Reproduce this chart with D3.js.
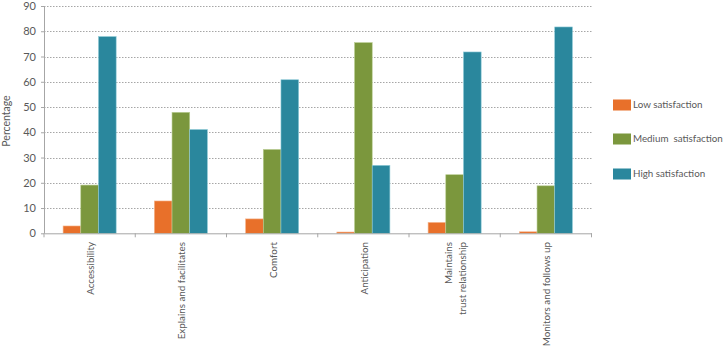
<!DOCTYPE html>
<html>
<head>
<meta charset="utf-8">
<script src="https://cdn.jsdelivr.net/npm/d3@7"></script>
<style>
  html, body { margin: 0; padding: 0; background: #fff; }
  svg { display: block; }
  text { font-family: Lato, "Open Sans", sans-serif; fill: #595959; }
</style>
</head>
<body>
<svg id="chart" width="724" height="348"></svg>
<script>
// ---- data ----
const categories = ["Accessibility", "Explains and facilitates", "Comfort", "Anticipation", "Maintains\ntrust relationship", "Monitors and follows up"];
const seriesNames = ["Low satisfaction", "Medium  satisfaction", "High satisfaction"];
const lowValues = [2.9, 12.8, 5.7, 0.5, 4.3, 0.6];
const mediumValues = [19.1, 47.9, 33.2, 75.5, 23.2, 18.8];
const highValues = [77.9, 41.1, 60.8, 26.9, 71.8, 81.7];
const yTicks = [0, 10, 20, 30, 40, 50, 60, 70, 80, 90];
const colors = ["#E8702A", "#7B973D", "#2A879D"];
const strokeColors = ["#F6B48C", "#BACD93", "#8FCBD8"];

const seriesValues = [lowValues, mediumValues, highValues];

const svg = d3.select("#chart");
const plotLeft = 44, plotRight = 591.5, plotTop = 6, plotBottom = 233.3;

const y = d3.scaleLinear().domain([0, 90]).range([plotBottom, plotTop]);
const x0 = d3.scaleBand().domain(categories).range([plotLeft, plotRight]).padding(0);
const x1 = d3.scaleBand().domain(seriesNames).range([0, x0.bandwidth()]).paddingInner(0).paddingOuter(1.08);

// gridlines
svg.append("g")
  .selectAll("line")
  .data(yTicks.filter(d => d > 0))
  .join("line")
  .attr("x1", plotLeft).attr("x2", plotRight)
  .attr("y1", d => Math.round(y(d)) + 0.5).attr("y2", d => Math.round(y(d)) + 0.5)
  .attr("stroke", "#A6A6A6")
  .attr("stroke-width", 1)
  .attr("stroke-dasharray", "1.5,1.5");

// bars
const groups = svg.append("g")
  .selectAll("g")
  .data(categories)
  .join("g")
  .attr("transform", d => `translate(${x0(d)},0)`);

groups.selectAll("rect")
  .data((c, i) => seriesNames.map((s, j) => ({ s, j, v: seriesValues[j][i] })))
  .join("rect")
  .attr("x", d => x1(d.s))
  .attr("width", x1.bandwidth())
  .attr("y", d => y(d.v))
  .attr("height", d => y(0) - y(d.v))
  .attr("fill", d => colors[d.j])
  .attr("stroke", d => strokeColors[d.j])
  .attr("stroke-width", 0.6);

// y axis
const yAxis = d3.axisLeft(y).tickValues(yTicks).tickSize(3).tickPadding(5).tickSizeOuter(0);
const gy = svg.append("g").attr("transform", `translate(${plotLeft},0)`).call(yAxis);
gy.select(".domain").attr("stroke", "#A6A6A6");
gy.selectAll(".tick line").attr("stroke", "#A6A6A6");
gy.selectAll(".tick text").style("font-size", "11px").style("font-family", "Lato, sans-serif").attr("fill", "#595959");

// x axis
const xAxis = d3.axisBottom(x0).tickSize(0).tickSizeOuter(0).tickFormat("");
const gx = svg.append("g").attr("transform", `translate(0,${plotBottom})`).call(xAxis);
gx.select(".domain").attr("stroke", "#A6A6A6");
// category boundary ticks
gx.append("g").selectAll("line")
  .data(categories.map(c => x0(c)).concat([plotRight]))
  .join("line")
  .attr("x1", d => d).attr("x2", d => d)
  .attr("y1", 0).attr("y2", 4)
  .attr("stroke", "#A6A6A6");

// x labels (rotated)
const labelTop = 242;
const xl = svg.append("g")
  .selectAll("text")
  .data(categories)
  .join("text")
  .attr("transform", d => `translate(${x0(d) + x0.bandwidth() / 2 + 1},${labelTop}) rotate(-90)`)
  .attr("text-anchor", "end")
  .style("font-size", "9.8px");
xl.each(function(d) {
  const lines = d.split("\n");
  const t = d3.select(this);
  const lh = 1.35;
  lines.forEach((ln, i) => {
    t.append("tspan")
      .attr("x", 0)
      .attr("dy", i === 0 ? `${0.35 - (lines.length - 1) * lh / 2}em` : `${lh}em`)
      .text(ln);
  });
});

// y title
svg.append("text")
  .attr("transform", `translate(10,121) rotate(-90)`)
  .attr("text-anchor", "middle")
  .style("font-size", "10.5px")
  .text("Percentage");

// legend
const legendY = [105, 139, 174];
const lg = svg.append("g")
  .selectAll("g")
  .data(seriesNames)
  .join("g")
  .attr("transform", (d, i) => `translate(613,${legendY[i]})`);
lg.append("rect")
  .attr("x", 0).attr("y", -5.5)
  .attr("width", 18).attr("height", 11)
  .attr("fill", (d, i) => colors[i]);
lg.append("text")
  .attr("x", 20).attr("y", 0).attr("dy", "0.35em")
  .style("font-size", "9.8px")
  .style("white-space", "pre")
  .text(d => d);
</script>
</body>
</html>
